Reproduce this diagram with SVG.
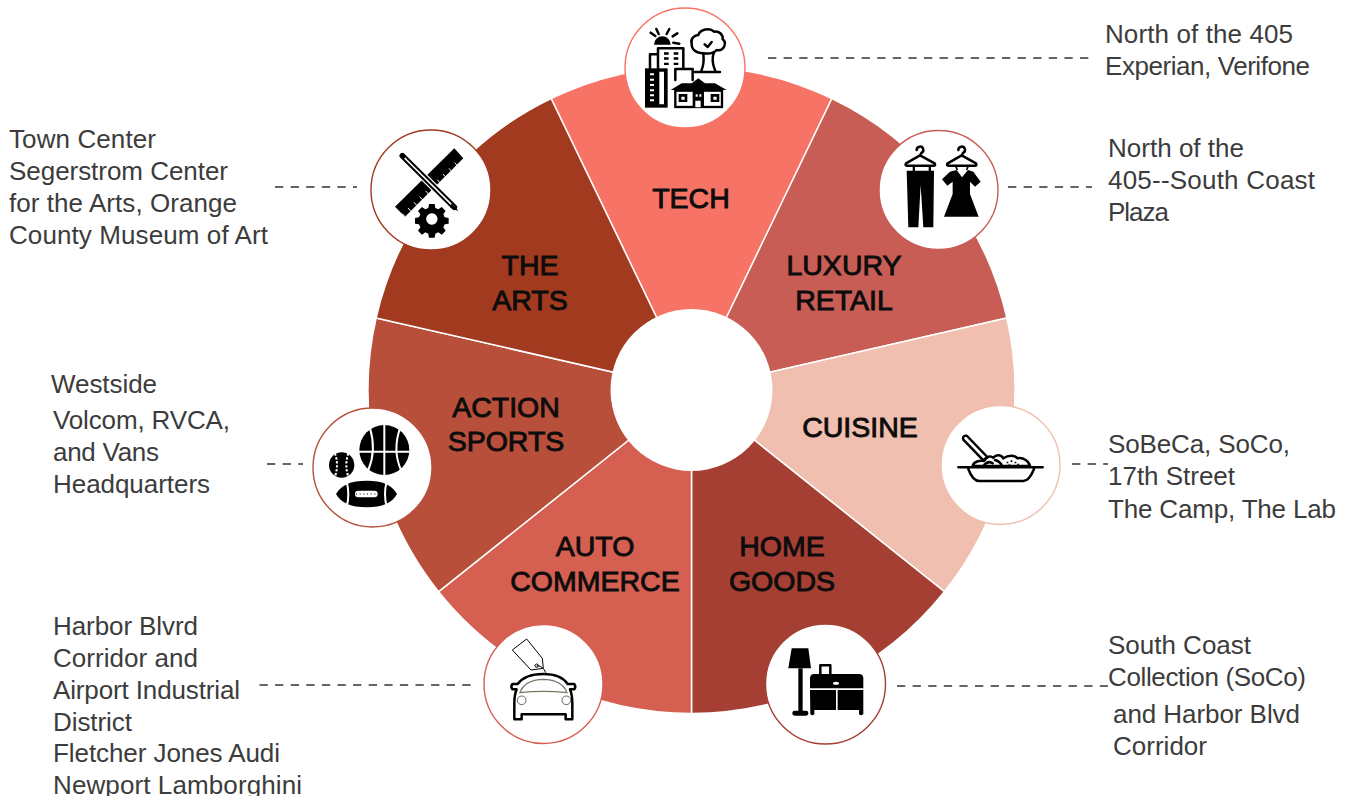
<svg xmlns="http://www.w3.org/2000/svg" width="1350" height="796" viewBox="0 0 1350 796">
<style>
.sec{stroke:#fff;stroke-width:1.5}
.ring{fill:#fff;stroke-width:1.4}
.lab{font-family:"Liberation Sans",Arial,sans-serif;font-size:28.5px;fill:#0c0c0c;stroke:#0c0c0c;stroke-width:.9;text-anchor:middle}
.txt{font-family:"Liberation Sans",Arial,sans-serif;font-size:26px;fill:#3c3c3c}
.dash{stroke:#333;stroke-width:1.5;stroke-dasharray:8.300 7.300;fill:none}
.k{fill:#000}
.o{fill:none;stroke:#000;stroke-width:7.500;stroke-linejoin:round;stroke-linecap:round}
.w{fill:none;stroke:#fff;stroke-width:6}
</style>
<rect width="1350" height="796" fill="#fff"/>
<g id="connectors">
<path class="dash" d="M768 58H1095"/>
<path class="dash" d="M275 187H357"/>
<path class="dash" d="M1008 187H1092"/>
<path class="dash" d="M1072 464H1108"/>
<path class="dash" d="M897 686H1108"/>
<path class="dash" d="M259.500 685H471"/>
<path class="dash" d="M267 464H303"/>
</g>
<g id="node-tech">
<path class="sec" fill="#F67366" d="M691.5 390L551.1 98.5A323.5 323.5 0 0 1 831.9 98.5Z"/>
<text class="lab" x="691" y="208.300">TECH</text>
<circle class="ring" cx="685" cy="68" r="60" stroke="#F67366"/>
<g transform="translate(600 0) scale(.3333)">
<path class="k" d="M162 134a25 25 0 0 1 50 0z"/>
<path class="o" d="M152 98l14 10M169 87l7 15M208 87l-8 15M232 100l-14 9M238 131l-18-3"/>
<path class="o" d="M174 205V145H250V205M150 205V163H174M226 240V207H278V240"/>
<path class="k" d="M192 157h14v7h-14zM221 157h14v7h-14zM192 172h14v7h-14zM221 172h14v7h-14zM192 188h14v7h-14zM221 188h14v7h-14z"/>
<rect class="k" x="135" y="205" width="68" height="118"/>
<path fill="#fff" d="M178 215h14v98h-14zM150 220h12v6h-12zM150 236h12v6h-12zM150 252h12v6h-12zM150 268h12v6h-12zM150 283h12v6h-12zM150 298h12v6h-12z"/>
<path class="k" d="M212 270L245 250H275L295 235L315 250H345L380 270Z"/>
<rect x="226" y="272" width="140" height="49" fill="#fff" stroke="#000" stroke-width="7"/>
<path class="k" d="M236 282h26v24h-26zM332 282h26v24h-26zM278 272h34v50h-34z"/>
<path fill="#fff" d="M244 290h10v9h-10zM340 290h10v9h-10zM286 302h16v20h-16zM287 283h6v7h-6zM298 283h6v7h-6z"/>
<path class="o" fill="#fff" d="M310 160C290 160 274 150 275 130C270 115 285 105 295 105C300 88 330 82 342 95C358 92 370 105 368 118C382 128 372 155 350 150C342 160 325 162 310 160Z"/>
<path class="o" d="M310 162C312 180 312 195 304 212M342 156C335 175 338 195 346 212M285 216H360"/>
<path class="o" d="M314 133l9 8 12-15"/>
</g>
</g>
<g id="node-luxury-retail">
<path class="sec" fill="#C85D55" d="M691.5 390L831.9 98.5A323.5 323.5 0 0 1 1006.9 318Z"/>
<text class="lab" x="844" y="275.300">LUXURY</text>
<text class="lab" x="844" y="310.300">RETAIL</text>
<circle class="ring" cx="938.5" cy="190" r="59.5" stroke="#C85D55"/>
<g transform="translate(870 120) scale(.3333)">
<path class="o" d="M140 90a10 10 0 1 1 14 9L150 106L108 130Q104 137 112 137H190Q198 137 194 130L150 106"/>
<path class="o" d="M265 90a10 10 0 1 1 14 9L275 106L233 130Q228 137 236 137H314Q322 137 318 130L275 106"/>
<path class="k" d="M110 152H192L190 322H160L152 195L145 322H115Z"/>
<path class="k" d="M128 137h7v16h-7zM176 137h7v16h-7z"/>
<path class="k" d="M240 155L260 150L276 172L294 150L310 155L332 185L315 200L300 185L300 222L326 290H222L248 222L248 185L232 197L216 178Z"/>
<path d="M257 137L262 150M295 137L290 150" stroke="#000" stroke-width="5"/>
</g>
</g>
<g id="node-cuisine">
<path class="sec" fill="#F0BFB0" d="M691.5 390L1006.9 318A323.5 323.5 0 0 1 944.4 591.7Z"/>
<text class="lab" x="860" y="437.300">CUISINE</text>
<circle class="ring" cx="1000.5" cy="465" r="59.5" stroke="#F0BFB0"/>
<g transform="translate(930 395) scale(.3333)">
<path class="o" d="M85 217H338M115 222Q128 258 148 258H280Q298 258 312 222"/>
<path class="o" d="M100 134a8 8 0 0 1 14-8L172 186L160 196Z" fill="#fff"/>
<path class="o" fill="#fff" d="M128 213C130 200 150 195 162 198C172 185 180 180 190 188C200 176 215 180 220 190C235 180 255 180 262 190C280 185 298 200 300 213Z"/>
<path class="o" d="M160 213Q175 195 188 205M195 195Q212 200 216 213"/>
<path class="k" d="M230 200h5v5h-5zM242 196h5v5h-5zM254 200h5v5h-5zM236 208h5v5h-5zM262 206h5v5h-5z"/>
</g>
</g>
<g id="node-home-goods">
<path class="sec" fill="#A53F33" d="M691.5 390L944.4 591.7A323.5 323.5 0 0 1 691.5 713.5Z"/>
<text class="lab" x="782" y="556.300">HOME</text>
<text class="lab" x="782" y="591.300">GOODS</text>
<circle class="ring" cx="825.5" cy="684" r="60" stroke="#A53F33"/>
<g transform="translate(755 620) scale(.3333)">
<path class="k" d="M110 85H160L168 145H100Z"/>
<rect class="k" x="130" y="145" width="13" height="130"/>
<rect class="k" x="112" y="272" width="48" height="15" rx="7"/>
<path class="o" d="M196 162V136H226V162"/>
<path class="k" d="M178 162H312Q325 162 325 175V205H165V175Q165 162 178 162Z"/>
<ellipse cx="243" cy="190" rx="9" ry="4.500" fill="#fff"/>
<path class="k" d="M165 210H243V270H178V282Q172 290 166 282ZM248 210H325V282Q318 290 312 282V270H248Z"/>
</g>
</g>
<g id="node-auto-commerce">
<path class="sec" fill="#D56052" d="M691.5 390V713.5A323.5 323.5 0 0 1 438.6 591.700Z"/>
<text class="lab" x="595" y="556.300">AUTO</text>
<text class="lab" x="595" y="591.300">COMMERCE</text>
<circle class="ring" cx="543.5" cy="684" r="59.5" stroke="#D56052"/>
<g transform="translate(475 620) scale(.3333)">
<path fill="#fff" stroke="#000" stroke-width="3" d="M112 90L155 57L202 115L205 145L168 150Z"/>
<circle cx="185" cy="137" r="5" fill="none" stroke="#000" stroke-width="3"/>
<path d="M185 137Q205 138 212 158" fill="none" stroke="#000" stroke-width="3"/>
<path class="o" d="M128 192Q150 162 205 162Q258 162 278 192H298Q304 200 298 208H285Q292 225 292 250V298H272V283H140V298H118V250Q118 225 125 208H112Q106 200 112 192Z"/>
<path fill="none" stroke="#777766" stroke-width="4" d="M135 218Q148 180 205 178Q262 180 276 218Q205 210 135 218Z"/>
<circle cx="140" cy="241" r="13" fill="none" stroke="#666" stroke-width="3"/>
<circle cx="274" cy="241" r="13" fill="none" stroke="#666" stroke-width="3"/>
</g>
</g>
<g id="node-action-sports">
<path class="sec" fill="#B84F3B" d="M691.5 390L438.6 591.7A323.5 323.5 0 0 1 376.1 318Z"/>
<text class="lab" x="506" y="417.300">ACTION</text>
<text class="lab" x="506" y="451.300">SPORTS</text>
<circle class="ring" cx="372.500" cy="467.500" r="59.5" stroke="#B84F3B"/>
<g transform="translate(305 400) scale(.3333)">
<circle class="k" cx="238" cy="150" r="75"/>
<path class="w" d="M238 72V228M162 155H314M195 85Q215 150 190 210M285 85Q262 150 288 210"/>
<circle class="k" cx="110" cy="195" r="38"/>
<path class="w" stroke-dasharray="7 5" d="M90 160Q102 195 90 230M130 160Q118 195 130 230"/>
<path class="k" d="M93 282Q115 242 185 242Q255 242 276 282Q255 322 185 322Q115 322 93 282Z"/>
<path class="w" d="M125 245Q135 282 125 320M245 245Q235 282 245 320"/>
<rect x="150" y="272" width="68" height="20" rx="10" fill="#fff"/>
<path stroke="#000" stroke-width="3" stroke-dasharray="3 8" d="M153 282H216" fill="none"/>
</g>
</g>
<g id="node-the-arts">
<path class="sec" fill="#A23A20" d="M691.5 390L376.1 318A323.5 323.5 0 0 1 551.1 98.5Z"/>
<text class="lab" x="530" y="275.300">THE</text>
<text class="lab" x="530" y="310.300">ARTS</text>
<circle class="ring" cx="431" cy="190" r="60" stroke="#A23A20"/>
<g transform="translate(360 120) scale(.3333)">
<path class="k" d="M105 260L283 85L310 115L135 290Z"/>
<path stroke="#fff" stroke-width="3" fill="none" d="M135 290l-8-9M152 273l-8-9M170 256l-8-9M187 239l-8-9M205 222l-8-9M222 205l-8-9M240 188l-8-9M257 171l-8-9M275 154l-8-9M292 137l-8-9"/>
<path d="M127 107L283 262" stroke="#fff" stroke-width="24"/>
<path d="M127 107L283 262" stroke="#000" stroke-width="17" stroke-linecap="round"/>
<path d="M134 114L283 262" stroke="#fff" stroke-width="5"/>
<path class="k" d="M275 250L296 274L270 262Z"/>
<path class="k" fill-rule="evenodd" d="M207 252h17l2 12 9 4 10-7 12 12-7 10 4 9 12 2v17l-12 2-4 9 7 10-12 12-10-7-9 4-2 12h-17l-2-12-9-4-10 7-12-12 7-10-4-9-12-2v-17l12-2 4-9-7-10 12-12 10 7 9-4zM215.500 280a17 17 0 1 0 .1 0z"/>
</g>
</g>
<g id="hub"><circle cx="691.500" cy="390" r="81" fill="#fff"/></g>
<g id="descriptions">
<text class="txt" x="1105" y="43" textLength="188">North of the 405</text>
<text class="txt" x="1105" y="75" textLength="205">Experian, Verifone</text>
<text class="txt" x="1108" y="157" textLength="136">North of the</text>
<text class="txt" x="1108" y="189" textLength="207">405--South Coast</text>
<text class="txt" x="1108" y="221" textLength="61">Plaza</text>
<text class="txt" x="1108" y="453" textLength="182">SoBeCa, SoCo,</text>
<text class="txt" x="1108" y="485" textLength="127">17th Street</text>
<text class="txt" x="1108" y="518" textLength="228">The Camp, The Lab</text>
<text class="txt" x="1108" y="654" textLength="143">South Coast</text>
<text class="txt" x="1108" y="686" textLength="198">Collection (SoCo)</text>
<text class="txt" x="1113" y="723" textLength="187">and Harbor Blvd</text>
<text class="txt" x="1113" y="755" textLength="94">Corridor</text>
<text class="txt" x="9" y="148" textLength="147">Town Center</text>
<text class="txt" x="9" y="180" textLength="219">Segerstrom Center</text>
<text class="txt" x="9" y="212" textLength="228">for the Arts, Orange</text>
<text class="txt" x="9" y="244" textLength="259">County Museum of Art</text>
<text class="txt" x="51" y="393" textLength="106">Westside</text>
<text class="txt" x="53" y="429" textLength="177">Volcom, RVCA,</text>
<text class="txt" x="53" y="461" textLength="106">and Vans</text>
<text class="txt" x="53" y="493" textLength="157">Headquarters</text>
<text class="txt" x="53" y="635" textLength="145">Harbor Blvrd</text>
<text class="txt" x="53" y="667" textLength="145">Corridor and</text>
<text class="txt" x="53" y="699" textLength="187">Airport Industrial</text>
<text class="txt" x="53" y="731" textLength="79">District</text>
<text class="txt" x="53" y="762" textLength="227">Fletcher Jones Audi</text>
<text class="txt" x="53" y="794" textLength="249">Newport Lamborghini</text>
</g>
</svg>
